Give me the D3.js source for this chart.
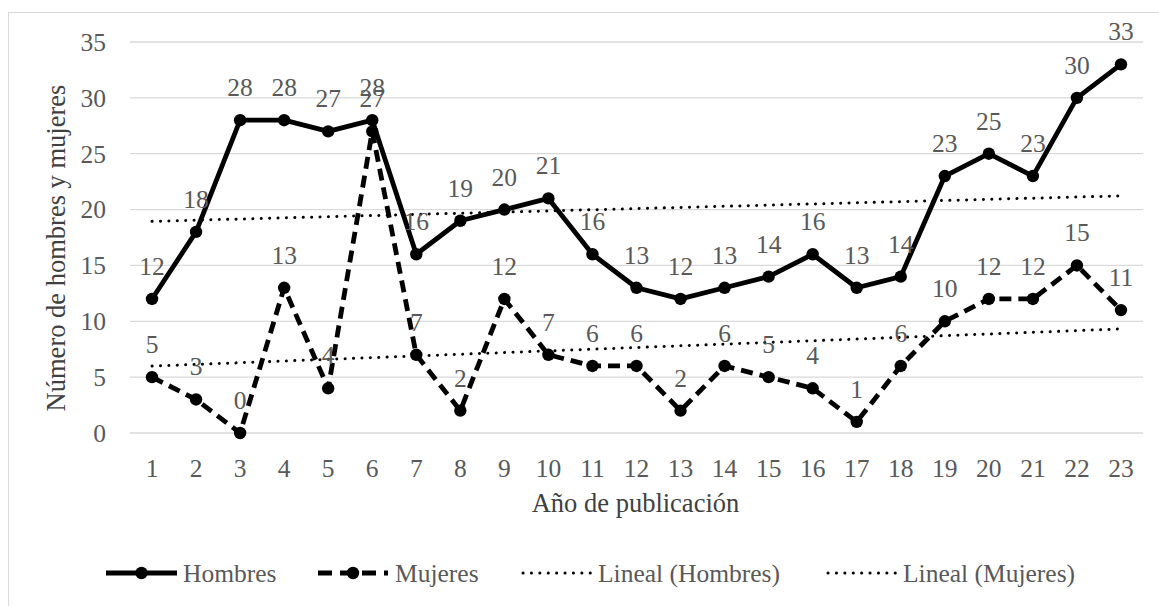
<!DOCTYPE html>
<html><head><meta charset="utf-8">
<script src="https://cdn.jsdelivr.net/npm/d3@7/dist/d3.min.js"></script>
<style>body{margin:0;background:#fff}svg{display:block}</style>
</head><body><svg id="c" width="1159" height="606"></svg>
<script>
const categories = ["1","2","3","4","5","6","7","8","9","10","11","12","13","14","15","16","17","18","19","20","21","22","23"];
const hombres = [12,18,28,28,27,28,16,19,20,21,16,13,12,13,14,16,13,14,23,25,23,30,33];
const mujeres = [5,3,0,13,4,27,7,2,12,7,6,6,2,6,5,4,1,6,10,12,12,15,11];
const yTicks = [0,5,10,15,20,25,30,35];
const yTitle = "Número de hombres y mujeres";
const xTitle = "Año de publicación";
const legendLabels = ["Hombres","Mujeres","Lineal (Hombres)","Lineal (Mujeres)"];

const FONT = "'Liberation Serif', 'Tinos', 'Times New Roman', 'DejaVu Serif', serif";
const svg = d3.select("#c");
const pL = 130, pR = 1143, pT = 42, pB = 433;
const gray = "#595959";
const FS = "25.5px";

svg.append("rect").attr("x",8.5).attr("y",12.5).attr("width",1160).attr("height",620)
  .attr("fill","none").attr("stroke","#d9d9d9").attr("stroke-width",1);

const x = d3.scaleBand().domain(categories).range([pL,pR]);
const y = d3.scaleLinear().domain([0,35]).range([pB,pT]);
const cx = c => x(c) + x.bandwidth()/2;

// gridlines
svg.append("g").selectAll("line").data(yTicks).join("line")
  .attr("x1",pL).attr("x2",pR).attr("y1",d=>y(d)).attr("y2",d=>y(d))
  .attr("stroke","#d9d9d9").attr("stroke-width",1.3);

// y axis labels
const yAxis = d3.axisLeft(y).tickValues(yTicks).tickSize(0).tickPadding(0);
const gy = svg.append("g").attr("transform","translate(106,0)").call(yAxis);
gy.select(".domain").remove();
gy.attr("font-family",null).attr("font-size",null);
gy.selectAll("text").attr("fill",gray).attr("dy","0.33em").style("font-size",FS).style("font-family",FONT);

// x axis labels
const xAxis = d3.axisBottom(x).tickSize(0).tickPadding(0);
const gx = svg.append("g").attr("transform","translate(0,477)").call(xAxis);
gx.select(".domain").remove();
gx.attr("font-family",null).attr("font-size",null);
gx.selectAll("text").attr("fill",gray).attr("dy",0).attr("y",0).style("font-size",FS).style("font-family",FONT);

// titles
svg.append("text").attr("transform","translate(65,248) rotate(-90)")
  .attr("text-anchor","middle").attr("fill","#404040").style("font-size","26.5px").style("font-family",FONT).text(yTitle);
svg.append("text").attr("x",635.5).attr("y",512).attr("text-anchor","middle")
  .attr("fill","#404040").style("font-size","26.5px").style("font-family",FONT).text(xTitle);

// trend lines (least squares)
function regress(vals){
  const n = vals.length, xs = vals.map((_,i)=>i+1);
  const mx = d3.mean(xs), my = d3.mean(vals);
  const b = d3.sum(xs.map((xi,i)=>(xi-mx)*(vals[i]-my))) / d3.sum(xs.map(xi=>(xi-mx)**2));
  const a = my - b*mx;
  return [[categories[0], a+b*1],[categories[n-1], a+b*n]];
}
const DOT = "0.1,8.3";
const line = d3.line().x(d=>cx(d[0])).y(d=>y(d[1]));
[hombres,mujeres].forEach(s=>{
  svg.append("path").attr("d",line(regress(s))).attr("fill","none")
    .attr("stroke","#000").attr("stroke-width",3).attr("stroke-dasharray",DOT).attr("stroke-linecap","round");
});

// series
const sline = d3.line().x((d,i)=>cx(categories[i])).y(d=>y(d));
function drawSeries(vals, dash){
  svg.append("path").attr("d",sline(vals)).attr("fill","none").attr("stroke","#000")
    .attr("stroke-width",4.8).attr("stroke-linejoin","round").attr("stroke-dasharray",dash);
  svg.append("g").selectAll("circle").data(vals).join("circle")
    .attr("cx",(d,i)=>cx(categories[i])).attr("cy",d=>y(d)).attr("r",6.2).attr("fill","#000");
}
drawSeries(mujeres,"12,7");
drawSeries(hombres,null);

// labels
[hombres,mujeres].forEach(s=>{
  svg.append("g").selectAll("text").data(s).join("text")
    .attr("x",(d,i)=>cx(categories[i])).attr("y",d=>y(d)-24)
    .attr("text-anchor","middle").attr("fill",gray).style("font-size",FS).style("font-family",FONT).text(d=>d);
});

// legend
const ly = 573;
const items = [
  {x1:106,x2:177,tx:183,dash:null,w:4.8,marker:true},
  {x1:318,x2:388,tx:395,dash:"14,8",w:4.8,marker:true},
  {x1:523,x2:592,tx:598,dash:DOT,w:3,marker:false},
  {x1:828,x2:897,tx:903,dash:DOT,w:3,marker:false}
];
items.forEach((it,i)=>{
  svg.append("line").attr("x1",it.x1).attr("x2",it.x2).attr("y1",ly).attr("y2",ly)
    .attr("stroke","#000").attr("stroke-width",it.w).attr("stroke-dasharray",it.dash)
    .attr("stroke-linecap",it.marker?"butt":"round");
  if(it.marker) svg.append("circle").attr("cx",(it.x1+it.x2)/2).attr("cy",ly).attr("r",6.2).attr("fill","#000");
  svg.append("text").attr("x",it.tx).attr("y",582).attr("fill",gray).style("font-size",FS).style("font-family",FONT).text(legendLabels[i]);
});
</script></body></html>
